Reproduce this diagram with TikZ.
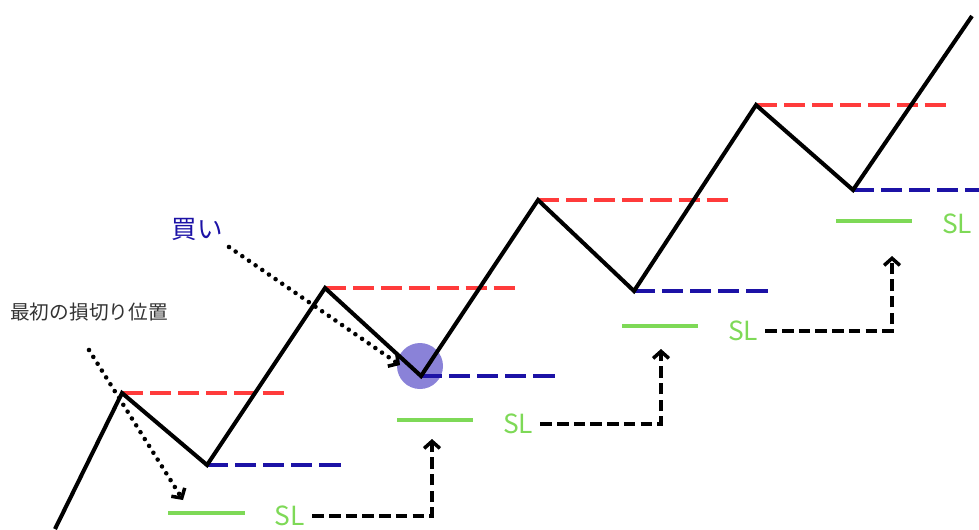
\documentclass[tikz,border=0pt]{standalone}
\usepackage{fontspec}
\setmainfont{Noto Sans CJK JP}
\usetikzlibrary{arrows.meta}
\usepackage{xcolor}
\definecolor{Resist}{HTML}{FF3B3B}
\definecolor{Support}{HTML}{1C12A6}
\definecolor{StopLoss}{HTML}{7ED957}
\definecolor{Entry}{HTML}{8A82D8}

\tikzset{
  price/.style={line width=2.3pt,black,line join=miter},
  resline/.style={line width=2.3pt,Resist,dash pattern=on 12pt off 4pt},
  supline/.style={line width=2.3pt,Support,dash pattern=on 12pt off 4pt},
  sline/.style={line width=2.4pt,StopLoss},
  sltext/.style={text=StopLoss,font=\fontsize{15}{18}\selectfont,inner sep=0pt},
  movearrow/.style={line width=2.2pt,dash pattern=on 6.5pt off 3pt,
    -{Straight Barb[length=4pt,width=9pt,line width=2pt]}},
  hintarrow/.style={line width=2.6pt,line cap=round,dash pattern=on 0pt off 4.6pt,
    -{Straight Barb[length=4pt,width=9pt,line width=2pt]}}
}

\begin{document}
\begin{tikzpicture}[x=0.02cm,y=-0.02cm]
    \useasboundingbox (0,0) rectangle (979,529);
    % entry point marker
    \node[circle,fill=Entry,inner sep=0pt,minimum size=0.92cm] (buy) at (420,366) {};
    % price swings
    \coordinate (p0) at (55,529);
    \coordinate (h1) at (122,393);
    \coordinate (l1) at (207,465);
    \coordinate (h2) at (325,288);
    \coordinate (l2) at (421,376);
    \coordinate (h3) at (538,200);
    \coordinate (l3) at (634,291);
    \coordinate (h4) at (756,105);
    \coordinate (l4) at (853,190);
    \coordinate (p9) at (972,16);
    % highs and lows
    \draw[resline] (h1) -- (288,393);
    \draw[resline] (h2) -- (517,288);
    \draw[resline] (h3) -- (730,200);
    \draw[resline] (h4) -- (950,105);
    \draw[supline] (l1) -- (343,465);
    \draw[supline] (l2) -- (555,376);
    \draw[supline] (l3) -- (772,291);
    \draw[supline] (l4) -- (979,190);
    \draw[price] (p0) -- (h1) -- (l1) -- (h2) -- (l2) -- (h3) -- (l3) -- (h4) -- (l4) -- (p9);
    % stop loss levels
    \draw[sline] (168,513) -- (245,513);
    \draw[sline] (397,420) -- (473,420);
    \draw[sline] (622,326) -- (698,326);
    \draw[sline] (836,221) -- (912,221);
    \node[sltext] (sl1) at (290,516) {SL};
    \node[sltext] (sl2) at (518,424) {SL};
    \node[sltext] (sl3) at (743,331) {SL};
    \node[sltext] (sl4) at (957,224) {SL};
    % trailing the stop
    \coordinate (up2) at (432,439);
    \coordinate (up3) at (661,349);
    \coordinate (up4) at (892,256);
    \draw[movearrow] ([xshift=4pt]sl1.east) -| (up2);
    \draw[movearrow] ([xshift=4pt]sl2.east) -| (up3);
    \draw[movearrow] ([xshift=4pt]sl3.east) -| (up4);
    % labels
    \node[font=\fontsize{11.2}{13}\selectfont,text=black!80] (first) at (89,312) {最初の損切り位置};
    \node[font=\fontsize{14.5}{17}\selectfont,text=Support] (buylabel) at (197,229) {買い};
    \coordinate (firststart) at (89,350);
    \coordinate (firstend) at (183,500);
    \coordinate (buystart) at (229,247);
    \coordinate (buyend) at (400,365);
    \draw[hintarrow] (firststart) -- (firstend);
    \draw[hintarrow] (buystart) -- (buyend);
  \end{tikzpicture}
\end{document}
